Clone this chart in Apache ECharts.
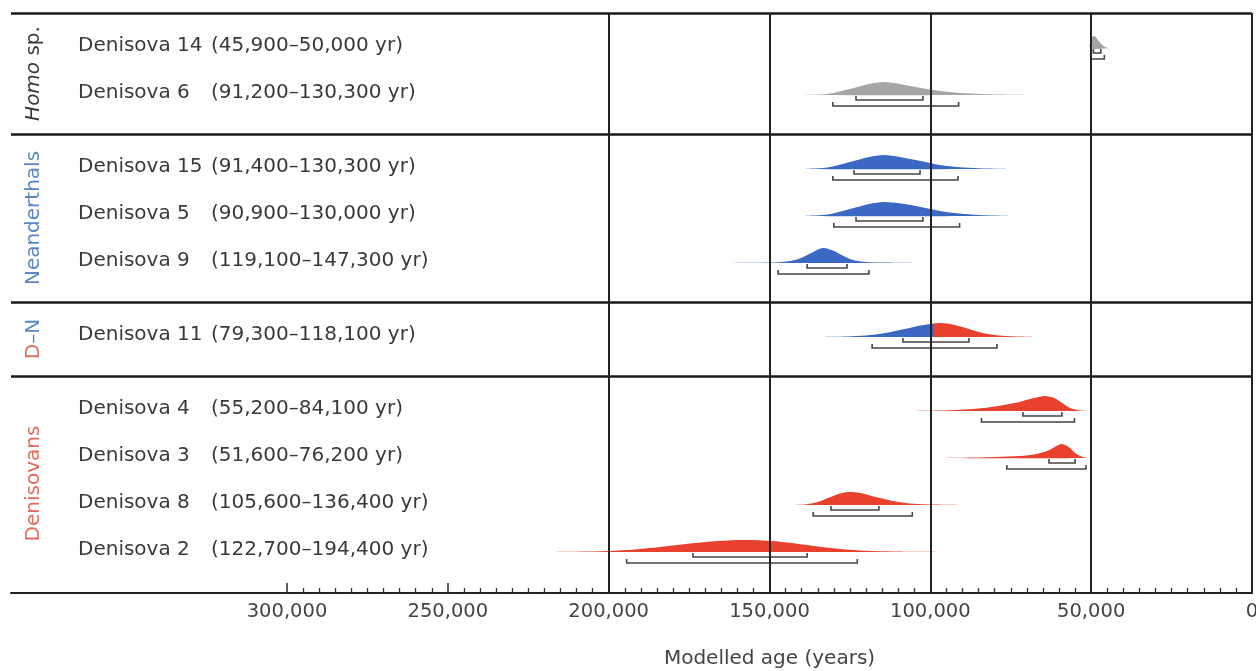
<!DOCTYPE html>
<html>
<head>
<meta charset="utf-8">
<script src="https://cdn.jsdelivr.net/npm/echarts@6/dist/echarts.min.js"></script>
<style>html,body{margin:0;padding:0;background:#fff}#c{width:1256px;height:671px}</style>
</head>
<body>
<div id="c"></div>
<script>
// ---------------- DATA ----------------
const groupNames = ['Homo sp.', 'Neanderthals', 'D–N', 'Denisovans'];
const groupSizes = [2, 3, 1, 4];
const specimens = ['Denisova 14', 'Denisova 6', 'Denisova 15', 'Denisova 5', 'Denisova 9',
                   'Denisova 11', 'Denisova 4', 'Denisova 3', 'Denisova 8', 'Denisova 2'];
const specimenKind = ['homo', 'homo', 'nean', 'nean', 'nean', 'mixed', 'deni', 'deni', 'deni', 'deni'];
// 95% modelled age ranges (older, younger), years
const range95 = [[50000, 45900], [130300, 91200], [130300, 91400], [130000, 90900], [147300, 119100],
                 [118100, 79300], [84100, 55200], [76200, 51600], [136400, 105600], [194400, 122700]];
// 68% ranges
const range68 = [[49300, 47000], [123100, 102300], [123700, 103200], [123100, 102300], [138300, 125900],
                 [108500, 88000], [71200, 59100], [63100, 55000], [130900, 116000], [173800, 138300]];
// probability densities: [age, relative height]
const dens14 = [[50300, 0], [49700, 11], [49000, 12], [48000, 8.5], [47000, 4.5], [46000, 1.5], [45000, 0.3], [44000, 0]];
const dens6 = [[141000, 0], [132000, 1], [125000, 6], [119000, 11], [114500, 13], [109500, 11], [103000, 7],
               [97000, 4], [91000, 2], [84500, 1], [78500, 0.4], [71000, 0]];
const dens15 = [[139000, 0], [132000, 1.5], [125000, 7], [119000, 12], [114500, 14], [109500, 12], [103000, 8],
                [97000, 4], [91000, 1.8], [85000, 0.8], [78000, 0.3], [74500, 0]];
const dens5 = [[139000, 0], [132000, 1.5], [125000, 7], [119000, 12], [114500, 14], [109000, 12.5], [103000, 9],
               [97000, 5], [91000, 2.5], [85000, 1], [78000, 0.3], [73000, 0]];
const dens9 = [[171500, 0], [155000, 0.3], [146000, 1], [141000, 4], [137000, 10], [133500, 15], [130000, 12],
               [127000, 7], [124000, 3], [120000, 1], [114000, 0.4], [106000, 0]];
const dens11 = [[134000, 0], [126000, 0.5], [120000, 1.5], [114000, 4], [108000, 8], [103000, 11.5], [99000, 13.5],
                [96500, 14], [93000, 12.5], [89000, 9], [85000, 5], [81000, 2.5], [76500, 1], [70000, 0.3], [65000, 0]];
const dens4 = [[111500, 0], [100000, 0.3], [92000, 1], [87000, 2], [82000, 3.5], [78000, 5.5], [73000, 8.5],
               [69000, 12], [64500, 15], [61500, 13], [59000, 8], [56500, 3], [54000, 0.8], [51000, 0]];
const dens3 = [[103500, 0], [90000, 0.3], [80000, 1], [72000, 2], [67000, 4], [63000, 8], [60500, 12.5],
               [59000, 14], [57000, 11], [55000, 5], [53000, 1.5], [51500, 0]];
const dens8 = [[145500, 0], [139000, 0.5], [135000, 3], [131000, 8], [127500, 12], [124500, 13], [121000, 11.5],
               [117000, 8], [113000, 5], [109000, 2.5], [104000, 1], [96000, 0.3], [84000, 0]];
const dens2 = [[231000, 0], [210000, 0.3], [200000, 1], [192000, 2.5], [184000, 5], [176000, 8], [168000, 10.5],
               [160000, 12], [155000, 12], [149000, 11], [142000, 8.5], [135000, 5.5], [128000, 3], [120000, 1.2],
               [112000, 0.5], [95000, 0]];
const densities = [dens14, dens6, dens15, dens5, dens9, dens11, dens4, dens3, dens8, dens2];
const d11SplitAge = 99000;   // Denisovan (right) / Neanderthal (left) split of Denisova 11
const gridLineAges = [0, 50000, 100000, 150000, 200000];
const axisMax = 300000, axisStep = 50000;
const axisTitle = 'Modelled age (years)';

// ---------------- LAYOUT / STYLE ----------------
const W = 1256, H = 671;
const TOP = 13, AXIS_Y = 593, LEFT = 11, RIGHT = 1252, AXIS_START = 287;
const PAD_TOP = 35, ROW_GAP = 47, PAD_BOTTOM = 39;
const LABEL_DY = -2;
const FONT = 'DejaVu Sans';
const LABEL_FONT = '20px "' + FONT + '"';
const COL = { homo: '#a5a5a5', nean: '#3a68c2', deni: '#e8412d' };
const GROUP_COL = ['#3a3a3a', '#5b86c8', '#e0705f', '#e46b5c'];
const plotH = AXIS_Y - TOP;
const fullMax = axisMax * (RIGHT - LEFT) / (RIGHT - AXIS_START);

// row baselines & group boundaries in y-axis units (1 unit = 1 px of plot height)
const rowBase = [], groupStart = [], groupEnd = [];
let cur = 0;
groupSizes.forEach((n) => {
  groupStart.push(cur);
  for (let k = 0; k < n; k++) rowBase.push(cur + PAD_TOP + k * ROW_GAP);
  cur += PAD_TOP + (n - 1) * ROW_GAP + PAD_BOTTOM;
  groupEnd.push(cur);
});
const separators = [0].concat(groupEnd.slice(0, -1));

const chart = echarts.init(document.getElementById('c'), null, { renderer: 'canvas' });

function renderRow(params, api) {
  const i = params.dataIndex;
  const base = rowBase[i];
  const kind = specimenKind[i];
  const children = [];
  const pts = densities[i].map(([age, h]) => api.coord([age, base - h]));
  let fill;
  if (kind === 'mixed') {
    const sx = api.coord([d11SplitAge, base])[0];
    fill = new echarts.graphic.LinearGradient(sx - 1, 0, sx + 1, 0, [
      { offset: 0, color: COL.nean }, { offset: 0.5, color: COL.nean },
      { offset: 0.5, color: COL.deni }, { offset: 1, color: COL.deni }], true);
  } else {
    fill = COL[kind];
  }
  children.push({ type: 'polygon', shape: { points: pts, smooth: 0.3 }, style: { fill: fill, stroke: null } });
  [[range68, 5], [range95, 11]].forEach(([rg, off]) => {
    const a = api.coord([rg[i][0], base + off]);
    const b = api.coord([rg[i][1], base + off]);
    children.push({ type: 'polyline', shape: { points: [[a[0], a[1] - 4], a, b, [b[0], b[1] - 4]] },
      style: { stroke: '#454545', lineWidth: 1.6, fill: null } });
  });
  const ty = api.coord([0, base + LABEL_DY])[1];
  children.push({ type: 'text', x: 78, y: ty, style: { text: specimens[i], fill: '#3a3a3a',
    font: LABEL_FONT, align: 'left', verticalAlign: 'middle' } });
  const fmt = (v) => v.toLocaleString('en-US');
  children.push({ type: 'text', x: 211, y: ty, style: { text: '(' + fmt(range95[i][1]) + '–' + fmt(range95[i][0]) + ' yr)',
    fill: '#3a3a3a', font: LABEL_FONT, align: 'left', verticalAlign: 'middle' } });
  return { type: 'group', children: children };
}

function renderGroup(params, api) {
  const g = params.dataIndex;
  const yc = api.coord([0, (groupStart[g] + groupEnd[g]) / 2])[1];
  let text, rich;
  const base = { fontSize: 20, fontFamily: FONT };
  if (g === 0) { text = '{i|Homo} sp.'; rich = { i: Object.assign({ fontStyle: 'italic', fill: GROUP_COL[0] }, base) }; }
  else if (g === 2) { text = '{r|D}{b|–N}'; rich = { r: Object.assign({ fill: '#e0705f' }, base), b: Object.assign({ fill: '#5b86c8' }, base) }; }
  else { text = groupNames[g]; rich = {}; }
  return { type: 'text', x: 34, y: yc, rotation: Math.PI / 2,
    style: { text: text, rich: rich, fill: GROUP_COL[g], font: '20px "' + FONT + '"', align: 'center', verticalAlign: 'middle' } };
}

const markLineData = separators.map((y) => ({ yAxis: y, lineStyle: { color: '#1a1a1a', width: 2.6, type: 'solid' } }))
  .concat(gridLineAges.map((x) => ({ xAxis: x, lineStyle: { color: '#222', width: 2, type: 'solid' } })));

chart.setOption({
  animation: false,
  backgroundColor: '#fff',
  grid: [
    { left: LEFT, right: W - RIGHT, top: TOP, bottom: H - AXIS_Y, containLabel: false, outerBoundsMode: 'none' },
    { left: AXIS_START, right: W - RIGHT, top: TOP, bottom: H - AXIS_Y, containLabel: false, outerBoundsMode: 'none' }
  ],
  xAxis: [
    { gridIndex: 0, type: 'value', inverse: true, min: 0, max: fullMax, position: 'bottom',
      axisLine: { show: true, onZero: false, lineStyle: { color: '#222', width: 2 } },
      axisTick: { show: false }, axisLabel: { show: false }, splitLine: { show: false } },
    { gridIndex: 1, type: 'value', inverse: true, min: 0, max: axisMax, interval: axisStep, position: 'bottom',
      axisLine: { show: false, onZero: false },
      axisTick: { show: true, inside: true, length: 10, lineStyle: { color: '#333', width: 1.6 } },
      minorTick: { show: true, splitNumber: 10, length: 5, lineStyle: { color: '#333', width: 1.3 } },
      axisLabel: { show: true, margin: 9, color: '#444', fontSize: 19.5, fontFamily: FONT, hideOverlap: false,
        showMinLabel: true, showMaxLabel: true, formatter: (v) => v.toLocaleString('en-US') },
      splitLine: { show: false },
      name: axisTitle, nameLocation: 'middle', nameGap: 56,
      nameTextStyle: { color: '#444', fontSize: 20, fontFamily: FONT } }
  ],
  yAxis: [
    { gridIndex: 0, type: 'value', inverse: true, min: 0, max: plotH, show: false },
    { gridIndex: 1, type: 'value', inverse: true, min: 0, max: plotH, show: false }
  ],
  series: [
    { type: 'custom', xAxisIndex: 0, yAxisIndex: 0, data: specimens.map((s, i) => [i]),
      renderItem: renderRow, clip: false, z: 2, silent: true },
    { type: 'custom', xAxisIndex: 0, yAxisIndex: 0, data: groupNames.map((s, i) => [i]),
      renderItem: renderGroup, clip: false, z: 2, silent: true },
    { type: 'line', xAxisIndex: 0, yAxisIndex: 0, data: [], z: 5, silent: true,
      markLine: { symbol: ['none', 'none'], silent: true, label: { show: false }, animation: false, data: markLineData } }
  ]
});
</script>
</body>
</html>
